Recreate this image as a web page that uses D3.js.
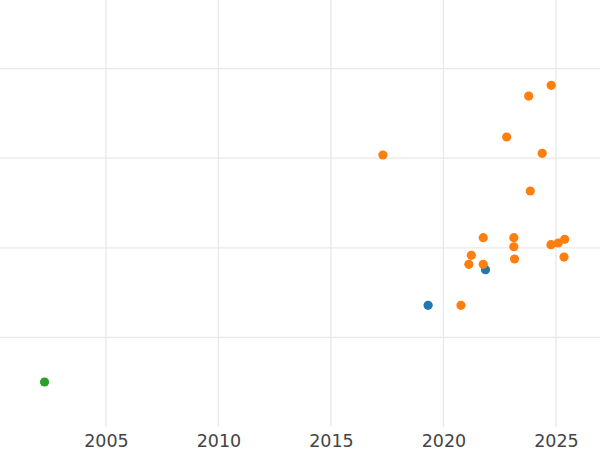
<!DOCTYPE html>
<html>
<head>
<meta charset="utf-8">
<script src="https://cdn.jsdelivr.net/npm/d3@7"></script>
<style>
  html, body { margin: 0; padding: 0; background: #fff; }
  svg { display: block; }
</style>
</head>
<body>
<svg id="chart" width="600" height="450"></svg>
<script>
// Data (year, value) per series
const blueYears = [2019.32, 2021.87];
const blueValues = [1.358, 1.756];
const orangeYears = [2017.31, 2024.79, 2023.79, 2022.81, 2024.39, 2023.86, 2021.77, 2023.13, 2023.13, 2023.16, 2021.24, 2021.13, 2021.77, 2020.78, 2024.78, 2025.10, 2025.39, 2025.36];
const orangeValues = [3.036, 3.814, 3.694, 3.237, 3.055, 2.634, 2.113, 2.113, 2.012, 1.875, 1.916, 1.816, 1.816, 1.358, 2.035, 2.054, 2.095, 1.897];
const greenYears = [2002.27];
const greenValues = [0.502];
const xTicks = [2005, 2010, 2015, 2020, 2025];
const yTicks = [1, 2, 3, 4];

const series = [
  {name: "blue", color: "#1f77b4", xs: blueYears, ys: blueValues},
  {name: "orange", color: "#ff7f0e", xs: orangeYears, ys: orangeValues},
  {name: "green", color: "#2ca02c", xs: greenYears, ys: greenValues}
];

const svg = d3.select("#chart");
const W = 600, plotBottom = 427;

const x = d3.scaleLinear().domain([2000.29, 2026.96]).range([0, W]);
const y = d3.scaleLinear().domain([0, 4.766]).range([plotBottom, 0]);

// Gridlines
const grid = svg.append("g");
grid.selectAll("line.h").data(yTicks).enter().append("line")
  .attr("class", "h")
  .attr("x1", 0).attr("x2", W)
  .attr("y1", d => y(d)).attr("y2", d => y(d))
  .attr("stroke", "#e8e8e8").attr("stroke-width", 1.3);
grid.selectAll("line.v").data(xTicks).enter().append("line")
  .attr("class", "v")
  .attr("x1", d => x(d)).attr("x2", d => x(d))
  .attr("y1", 0).attr("y2", plotBottom)
  .attr("stroke", "#e8e8e8").attr("stroke-width", 1.3);

// X axis labels
const xAxis = d3.axisBottom(x).tickValues(xTicks).tickFormat(d3.format("d")).tickSize(0).tickPadding(8);
const gx = svg.append("g").attr("transform", `translate(0,${plotBottom})`).call(xAxis);
gx.select(".domain").remove();
gx.selectAll("text")
  .attr("font-family", "DejaVu Sans, sans-serif")
  .attr("font-size", 17.5)
  .attr("fill", "#444");

// Points
series.forEach(s => {
  const pts = s.xs.map((v, i) => [v, s.ys[i]]);
  svg.append("g").selectAll("circle").data(pts).enter().append("circle")
    .attr("cx", d => x(d[0]))
    .attr("cy", d => y(d[1]))
    .attr("r", 4.6)
    .attr("fill", s.color);
});
</script>
</body>
</html>
